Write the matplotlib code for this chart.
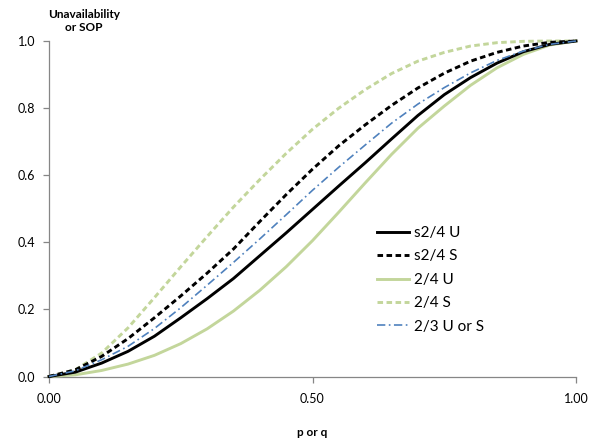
import matplotlib
matplotlib.use("Agg")
import matplotlib.pyplot as plt

p = [0.00, 0.05, 0.10, 0.15, 0.20, 0.25, 0.30, 0.35, 0.40, 0.45, 0.50,
     0.55, 0.60, 0.65, 0.70, 0.75, 0.80, 0.85, 0.90, 0.95, 1.00]

s24_U = [0.000, 0.013, 0.040, 0.075, 0.120, 0.175, 0.232, 0.292, 0.360, 0.428, 0.498,
         0.568, 0.637, 0.708, 0.778, 0.840, 0.891, 0.934, 0.968, 0.990, 1.000]
s24_S = [0.000, 0.020, 0.060, 0.113, 0.175, 0.240, 0.308, 0.380, 0.462, 0.542, 0.618,
         0.688, 0.750, 0.808, 0.860, 0.904, 0.940, 0.966, 0.985, 0.996, 1.000]
u24_U = [0.000, 0.005, 0.018, 0.037, 0.063, 0.098, 0.142, 0.195, 0.257, 0.327, 0.405,
         0.490, 0.577, 0.662, 0.740, 0.806, 0.868, 0.920, 0.960, 0.988, 1.000]
u24_S = [0.000, 0.020, 0.070, 0.145, 0.235, 0.327, 0.417, 0.505, 0.587, 0.665, 0.737,
         0.800, 0.855, 0.903, 0.940, 0.966, 0.985, 0.995, 0.999, 1.000, 1.000]
u23 = [0.000, 0.017, 0.050, 0.090, 0.143, 0.205, 0.272, 0.340, 0.410, 0.482, 0.555,
       0.624, 0.690, 0.755, 0.812, 0.861, 0.905, 0.942, 0.970, 0.990, 1.000]

labels = ["s2/4 U", "s2/4 S", "2/4 U", "2/4 S", "2/3 U or S"]
x_ticks = [0.0, 0.5, 1.0]
x_ticklabels = ["0.00", "0.50", "1.00"]
y_ticks = [0.0, 0.2, 0.4, 0.6, 0.8, 1.0]
y_ticklabels = ["0.0", "0.2", "0.4", "0.6", "0.8", "1.0"]

plt.rcParams['font.family'] = ['Lato', 'DejaVu Sans']
plt.rcParams['lines.scale_dashes'] = False

fig = plt.figure(figsize=(6.02, 4.41), dpi=100)
ax = fig.add_axes([49/602, 1 - 376.5/441, 527/602, 335.5/441])

black = "#000000"
green = "#C3D69B"
blue = "#4F81BD"

ax.plot(p, s24_U, color=black, lw=2.1, label=labels[0], clip_on=False, zorder=4)
ax.plot(p, s24_S, color=black, lw=2.1, ls=(0, (4.0, 2.5)), label=labels[1], clip_on=False, zorder=4)
ax.plot(p, u24_U, color=green, lw=2.1, label=labels[2], clip_on=False, zorder=3)
ax.plot(p, u24_S, color=green, lw=2.1, ls=(0, (4.0, 2.5)), label=labels[3], clip_on=False, zorder=3)
ax.plot(p, u23, color=blue, lw=1.2, ls=(0, (6.0, 2.5, 1.2, 2.5)), label=labels[4], clip_on=False, zorder=5)

ax.set_xlim(0, 1)
ax.set_ylim(0, 1)
ax.set_xticks(x_ticks)
ax.set_xticklabels(x_ticklabels)
ax.set_yticks(y_ticks)
ax.set_yticklabels(y_ticklabels)

for s in ["top", "right"]:
    ax.spines[s].set_visible(False)
for s in ["left", "bottom"]:
    ax.spines[s].set_color("#868686")
    ax.spines[s].set_linewidth(0.9)
ax.tick_params(axis='both', direction='out', length=4, width=0.9, color="#868686",
               labelsize=9, labelcolor="#000000")
ax.tick_params(axis='x', pad=8)
ax.tick_params(axis='y', pad=6)

fig.text(84/602, 1 - 21/441, "Unavailability\nor SOP", ha='center', va='center',
         fontsize=8.5, fontweight='bold', linespacing=1.25)
fig.text(312/602, 1 - 432/441, "p or q", ha='center', va='center',
         fontsize=8.5, fontweight='bold')

leg = ax.legend(loc='center left', bbox_to_anchor=(0.622, 0.288), frameon=False,
                fontsize=11, handlelength=2.1, handletextpad=0.35, labelspacing=0.62,
                borderpad=0, borderaxespad=0)

fig.savefig("out.png", dpi=100)
